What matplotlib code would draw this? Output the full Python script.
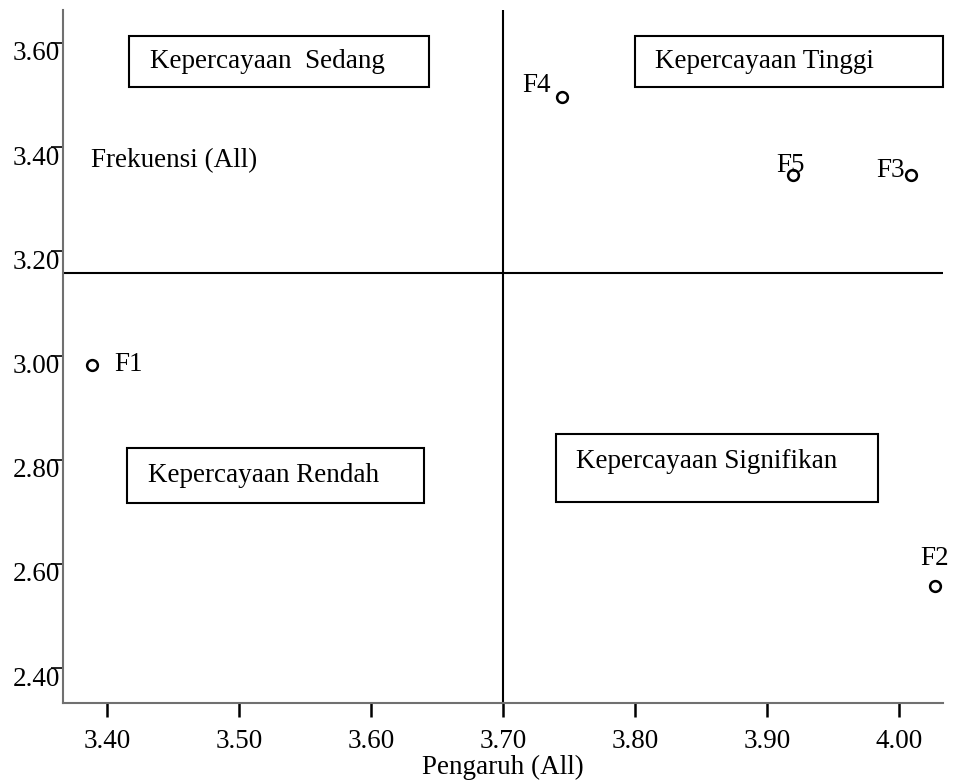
import matplotlib.pyplot as plt
import matplotlib.transforms as mtransforms
from matplotlib.patches import Rectangle

# factor coordinates (Pengaruh, Frekuensi)
labels = ["F1", "F2", "F3", "F4", "F5"]
pengaruh = [3.389, 4.027, 4.009, 3.745, 3.920]
frekuensi = [2.982, 2.557, 3.347, 3.496, 3.347]

mean_x = 3.70
mean_y = 3.158

x_ticks = [3.40, 3.50, 3.60, 3.70, 3.80, 3.90, 4.00]
y_ticks = [2.40, 2.60, 2.80, 3.00, 3.20, 3.40, 3.60]

# label offsets in pixels (dx, dy, ha)
label_pos = {
    "F1": (22, 0, "left"),
    "F2": (0, 28, "center"),
    "F3": (-6, 4, "right"),
    "F4": (-12, 12, "right"),
    "F5": (-3, 9, "center"),
}

plt.rcParams["font.family"] = ["Liberation Serif", "DejaVu Serif"]
FS = 19.5

fig = plt.figure(figsize=(9.55, 7.82), dpi=100)
ax = fig.add_axes([0.066, 0.101, 0.9214, 0.886])

ax.scatter(pengaruh, frekuensi, s=60, facecolors="white", edgecolors="black",
           linewidths=1.8, zorder=3)
for lab, x, y in zip(labels, pengaruh, frekuensi):
    dx, dy, ha = label_pos[lab]
    ax.annotate(lab, (x, y), xytext=(dx, dy), textcoords="offset pixels",
                ha=ha, va="center", fontsize=FS)

ax.axvline(mean_x, color="black", lw=1.5)
ax.axhline(mean_y, color="black", lw=1.5)

ax.set_xlim(3.3667, 4.0333)
ax.set_ylim(2.333, 3.663)
ax.set_xticks(x_ticks)
ax.set_xticklabels([f"{v:.2f}" for v in x_ticks])
ax.set_yticks(y_ticks)
ax.set_yticklabels([f"{v:.2f}" for v in y_ticks])
ax.tick_params(axis="x", length=10, width=1.8, labelsize=FS, pad=9)
ax.tick_params(axis="y", length=9, width=1.2, labelsize=FS, pad=-7)

# y tick labels sit a little below their ticks in the original
shift = mtransforms.ScaledTranslation(0, -0.08, fig.dpi_scale_trans)
for t in ax.get_yticklabels():
    t.set_transform(t.get_transform() + shift)

for s in ["top", "right"]:
    ax.spines[s].set_visible(False)
for s in ["left", "bottom"]:
    ax.spines[s].set_color("#707070")
    ax.spines[s].set_linewidth(1.5)

ax.set_xlabel("Pengaruh (All)", fontsize=FS, labelpad=0)
ax.text(0.032, 0.7835, "Frekuensi (All)", transform=ax.transAxes,
        fontsize=FS, ha="left", va="center")

# quadrant boxes (axes fraction)
boxes = [
    ("Kepercayaan  Sedang", 0.075, 0.889, 0.341, 0.0735, 0.099),
    ("Kepercayaan Tinggi", 0.650, 0.889, 0.350, 0.0735, 0.673),
    ("Kepercayaan Rendah", 0.0727, 0.2886, 0.337, 0.0794, 0.0966),
    ("Kepercayaan Signifikan", 0.560, 0.290, 0.366, 0.098, 0.583),
]
for txt, x0, y0, w, h, tx in boxes:
    ax.add_patch(Rectangle((x0, y0), w, h, transform=ax.transAxes,
                           fill=False, edgecolor="black", lw=1.5, clip_on=False))
    ty = y0 + h / 2 if "Signifikan" not in txt else y0 + h * 0.6
    ax.text(tx, ty, txt, transform=ax.transAxes, fontsize=FS,
            ha="left", va="center")

fig.savefig("out.png", dpi=100)
